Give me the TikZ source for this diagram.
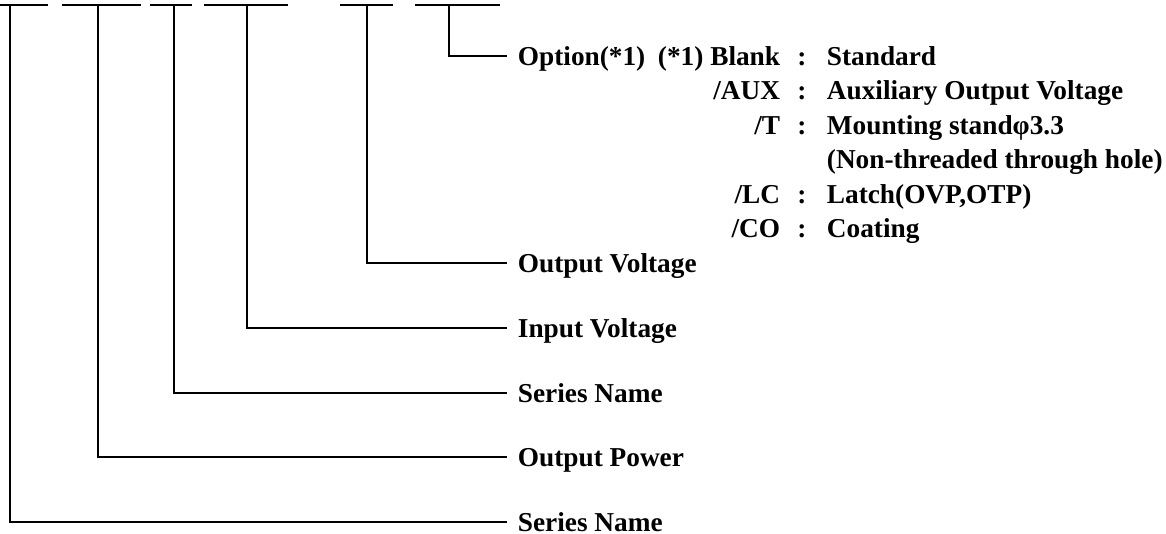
\documentclass[tikz,border=0pt]{standalone}
\usepackage{fontspec}
\setmainfont{Liberation Serif}
\begin{document}
\begin{tikzpicture}[x=1pt,y=-1pt,line width=1.8pt,
  txt/.style={inner sep=0pt,text height=18.07pt,text depth=0pt,font=\bfseries\fontsize{27.3}{31}\selectfont},
  lbl/.style={txt,anchor=west,inner xsep=10pt},
  key/.style={txt,anchor=east},
  colon/.style={txt,anchor=center},
  val/.style={txt,anchor=west},
  wire/.style={line width=1.8pt}]
\useasboundingbox (0,0) rectangle (1166,534);
% top bars
\draw[wire] (0,5) -- (48,5);
\draw[wire] (62,5) -- (141,5);
\draw[wire] (150,5) -- (192,5);
\draw[wire] (204,5) -- (288,5);
\draw[wire] (340,5) -- (393,5);
\draw[wire] (415,5) -- (500,5);
\coordinate (t1) at (10,5);
\coordinate (t2) at (98,5);
\coordinate (t3) at (174,5);
\coordinate (t4) at (247,5);
\coordinate (t5) at (367,5);
\coordinate (t6) at (449,5);
% labels
\node[lbl] (sn1) at (507,522) {Series Name};
\node[lbl] (op) at (507,457) {Output Power};
\node[lbl] (sn2) at (507,393) {Series Name};
\node[lbl] (iv) at (507,328) {Input Voltage};
\node[lbl] (ov) at (507,263) {Output Voltage};
\node[lbl] (opt) at (507,56) {Option(*1)};
\draw[wire] (t1) |- (sn1.west);
\draw[wire] (t2) |- (op.west);
\draw[wire] (t3) |- (sn2.west);
\draw[wire] (t4) |- (iv.west);
\draw[wire] (t5) |- (ov.west);
\draw[wire] (t6) |- (opt.west);
% option table
\node[key] (k1) at (781,56) {(*1) Blank};
\node[key] (k2) at (781,90.5) {/AUX};
\node[key] (k3) at (781,125) {/T};
\node[key] (k4) at (781,194) {/LC};
\node[key] (k5) at (781,228.5) {/CO};
\node[colon] (c1) at (802,56) {:};
\node[colon] (c2) at (802,90.5) {:};
\node[colon] (c3) at (802,125) {:};
\node[colon] (c4) at (802,194) {:};
\node[colon] (c5) at (802,228.5) {:};
\node[val] (v1) at (826,56) {Standard};
\node[val] (v2) at (826,90.5) {Auxiliary Output Voltage};
\node[val] (v3) at (826,125) {Mounting standφ3.3};
\node[val] (v3b) at (826,159.5) {(Non-threaded through hole)};
\node[val] (v4) at (826,194) {Latch(OVP,OTP)};
\node[val] (v5) at (826,228.5) {Coating};
\end{tikzpicture}
\end{document}
